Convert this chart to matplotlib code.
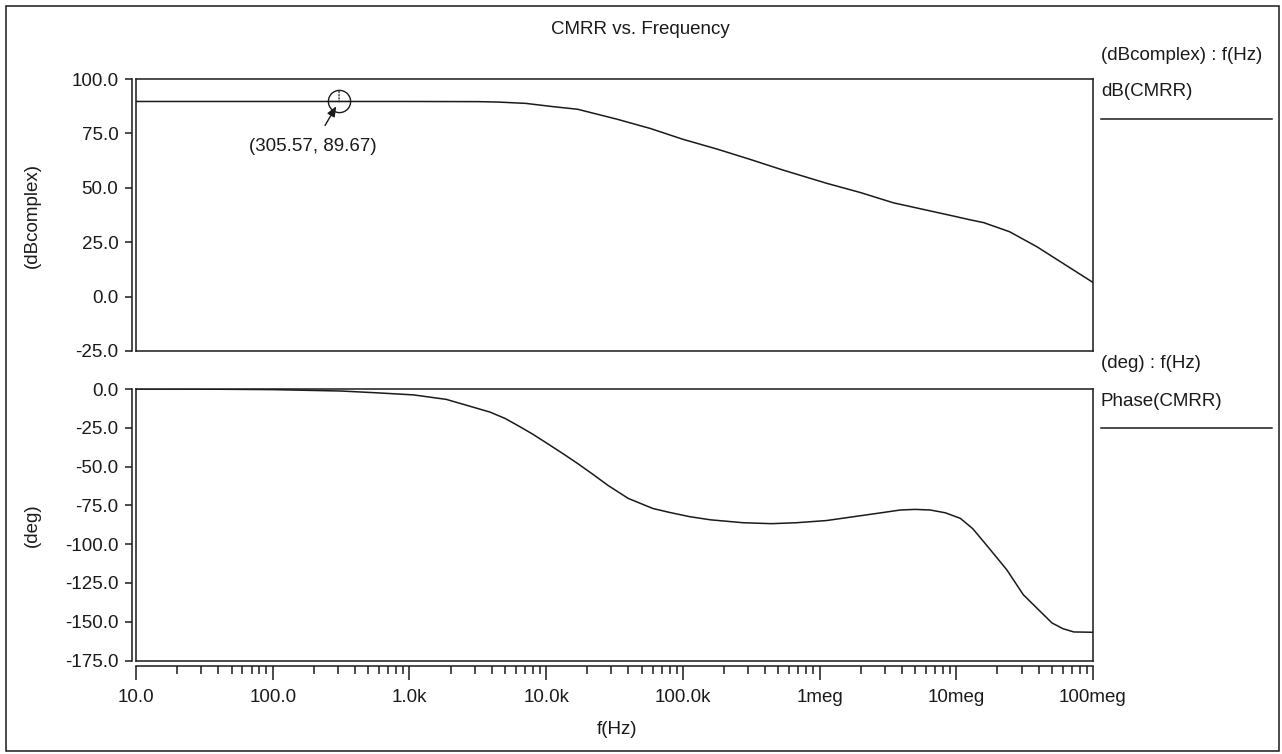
import matplotlib
matplotlib.use('Agg')
import matplotlib.pyplot as plt
from matplotlib.patches import Rectangle
from matplotlib.lines import Line2D
from matplotlib.ticker import FixedLocator, NullFormatter

plt.rcParams['font.family'] = ['Liberation Sans', 'DejaVu Sans']

# ---------------- data ----------------
db_freq = [10, 100, 1000, 3162, 4467, 7079, 11220, 16982, 33113, 57544,
           100000, 177828, 309030, 537032, 1122018, 1995262, 3467369,
           9549926, 12589254, 15848932, 24547089, 38904514, 63095734, 100000000]
db_vals = [89.67, 89.67, 89.67, 89.6, 89.4, 88.8, 87.3, 86.1, 81.5, 77.3,
           72.3, 67.8, 63.1, 58.2, 52.1, 47.8, 43.1,
           37.0, 35.3, 34.0, 29.8, 22.9, 14.5, 6.5]

ph_freq = [10, 31.6, 100, 316, 562, 1072, 1862, 3890, 5012, 6166, 7943,
           10233, 13183, 16982, 22387, 28184, 39811, 60256, 79433, 112202,
           158489, 275423, 446684, 676083, 1122018, 1778279, 2818383,
           3890451, 5011872, 6456542, 8317638, 10715193, 13182567,
           16595869, 23442288, 30902954, 50118723, 60255959, 72443596,
           100000000]
ph_vals = [0.0, -0.1, -0.4, -1.3, -2.4, -3.8, -6.7, -14.9, -19.0, -23.4, -29.0,
           -35.2, -41.5, -48.0, -55.5, -62.0, -70.5, -77.0, -79.5, -82.3,
           -84.3, -86.2, -86.8, -86.2, -84.8, -82.3, -79.8,
           -78.0, -77.6, -78.0, -79.8, -83.4, -90.0,
           -100.5, -116.6, -132.6, -150.8, -154.5, -156.6,
           -156.8]

marker_pt = (305.57, 89.67)
marker_label = "(305.57, 89.67)"

db_ticks = [-25, 0, 25, 50, 75, 100]
ph_ticks = [-175, -150, -125, -100, -75, -50, -25, 0]
x_ticks = [10, 100, 1e3, 1e4, 1e5, 1e6, 1e7, 1e8]
x_labels = ["10.0", "100.0", "1.0k", "10.0k", "100.0k", "1meg", "10meg", "100meg"]

title = "CMRR vs. Frequency"
# --------------------------------------

W, H = 1282, 754
fig = plt.figure(figsize=(W / 100, H / 100), dpi=100)
FS = 13.5
LC = '#1a1a1a'
LW = 1.1


def fx(px):
    return px / W


def fy(py):
    return 1 - py / H


def ax_rect(x0, y0, x1, y1):
    return [x0 / W, 1 - y1 / H, (x1 - x0) / W, (y1 - y0) / H]


ax1 = fig.add_axes(ax_rect(136, 79, 1093, 351))
ax2 = fig.add_axes(ax_rect(136, 389, 1093, 660.5))

for ax in (ax1, ax2):
    ax.set_xscale('log')
    ax.set_xlim(10, 1e8)
    for s in ax.spines.values():
        s.set_linewidth(LW)
        s.set_color(LC)
    ax.spines['left'].set_position(('outward', 4 * 0.72))
    # box left edge
    ax.add_line(Line2D([0, 0], [0, 1], transform=ax.transAxes, color=LC,
                       lw=LW, clip_on=False))
    ax.tick_params(axis='y', which='both', direction='out', length=5,
                   width=LW, pad=4.8, labelsize=FS, colors=LC,
                   right=False)
    ax.tick_params(axis='x', which='both', top=False)

ax1.plot(db_freq, db_vals, color=LC, lw=LW)
ax1.set_ylim(-25, 100)
ax1.set_yticks(db_ticks, [f"{v:.1f}" for v in db_ticks])
ax1.tick_params(axis='x', which='both', bottom=False, labelbottom=False)

ax2.plot(ph_freq, ph_vals, color=LC, lw=LW)
ax2.set_ylim(-175, 0)
ax2.set_yticks(ph_ticks, [f"{v:.1f}" for v in ph_ticks])
ax2.spines['bottom'].set_position(('outward', 5 * 0.72))
ax2.add_line(Line2D([0, 1], [0, 0], transform=ax2.transAxes, color=LC,
                    lw=LW, clip_on=False))
ax2.set_xticks(x_ticks, x_labels)
minors = [m * d for d in x_ticks[:-1] for m in range(2, 10)]
ax2.xaxis.set_minor_locator(FixedLocator(minors))
ax2.xaxis.set_minor_formatter(NullFormatter())
ax2.tick_params(axis='x', which='major', direction='out', length=10,
                width=LW, pad=7, labelsize=FS, colors=LC)
ax2.tick_params(axis='x', which='minor', direction='out', length=5.8,
                width=LW, colors=LC)

# marker annotation
mx, my = marker_pt
ax1.plot([mx], [my], marker='o', ms=16, mfc='none', mec=LC, mew=1.0)
for dx, dy in [(0, 10), (-10, 0), (10, 0)]:
    ax1.annotate('', xy=(mx, my), xytext=(dx, dy), textcoords='offset pixels',
                 arrowprops=dict(arrowstyle='-', linestyle=(0, (1, 1.5)),
                                 lw=0.9, color=LC, shrinkA=0, shrinkB=0))
ax1.annotate('', xy=(mx, my), xytext=(-14, -24), textcoords='offset pixels',
             arrowprops=dict(arrowstyle='-|>,head_length=0.6,head_width=0.25',
                             lw=1.0, color=LC, shrinkA=0, shrinkB=4))
ax1.annotate(marker_label, xy=(mx, my), xytext=(-26, -45.5),
             textcoords='offset pixels', ha='center', va='center',
             fontsize=FS, color=LC)

# figure texts
fig.text(fx(640), fy(30), title, ha='center', va='center', fontsize=FS, color=LC)
fig.text(fx(32), fy(215), "(dBcomplex)", rotation=90, ha='center', va='center',
         fontsize=FS, color=LC)
fig.text(fx(32), fy(525), "(deg)", rotation=90, ha='center', va='center',
         fontsize=FS, color=LC)
fig.text(fx(617), fy(729), "f(Hz)", ha='center', va='center', fontsize=FS, color=LC)

fig.text(fx(1101), fy(55), "(dBcomplex) : f(Hz)", ha='left', va='center',
         fontsize=FS, color=LC)
fig.text(fx(1101), fy(92), "dB(CMRR)", ha='left', va='center', fontsize=FS, color=LC)
fig.add_artist(Line2D([fx(1101), fx(1272)], [fy(119), fy(119)], color=LC, lw=LW))
fig.text(fx(1101), fy(363), "(deg) : f(Hz)", ha='left', va='center',
         fontsize=FS, color=LC)
fig.text(fx(1101), fy(401), "Phase(CMRR)", ha='left', va='center', fontsize=FS, color=LC)
fig.add_artist(Line2D([fx(1101), fx(1272)], [fy(428), fy(428)], color=LC, lw=LW))

# outer border
fig.add_artist(Rectangle((fx(6), fy(751)), fx(1279) - fx(6), fy(6) - fy(751),
                         fill=False, ec=LC, lw=LW, transform=fig.transFigure))

fig.savefig('out.png', dpi=100)
